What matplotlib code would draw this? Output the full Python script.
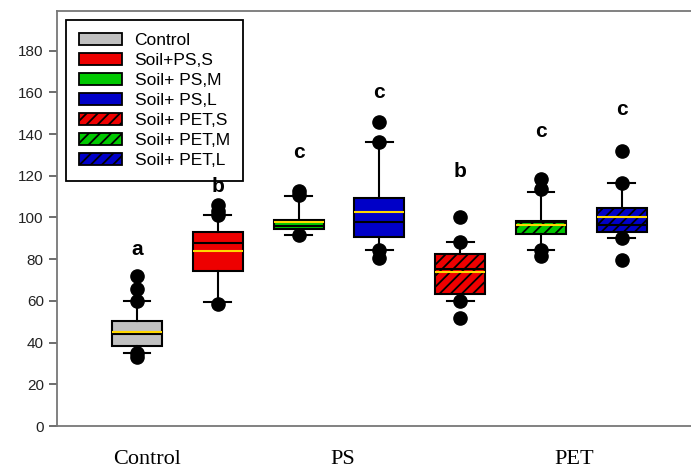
import matplotlib
matplotlib.use("Agg")
import matplotlib.pyplot as plt
from matplotlib.patches import Patch

# values
labels = ["Control", "Soil+PS,S", "Soil+ PS,M", "Soil+ PS,L",
          "Soil+ PET,S", "Soil+ PET,M", "Soil+ PET,L"]
q1 = [38.4, 74.1, 94.6, 90.6, 63.2, 92.0, 92.8]
q3 = [50.4, 93.1, 98.9, 109.3, 82.6, 98.4, 104.3]
med = [44.0, 87.8, 96.1, 97.8, 75.2, 97.6, 96.5]
mean = [45.3, 83.9, 97.6, 102.6, 73.9, 96.2, 100.1]
whislo = [35.2, 59.5, 91.7, 84.5, 60.0, 84.5, 90.3]
whishi = [60.0, 101.1, 110.1, 136.2, 88.0, 112.0, 116.5]
fliers = [
    [71.7, 65.6, 60.0, 34.9, 33.3],
    [106.1, 102.9, 101.1, 58.5],
    [112.8, 110.9, 91.7],
    [145.6, 136.2, 84.5, 80.5],
    [100.0, 88.0, 60.0, 52.0],
    [118.4, 113.6, 84.5, 81.3],
    [131.7, 116.5, 90.3, 79.7],
]
letters = ["a", "b", "c", "c", "b", "c", "c"]
letter_y = [84.5, 114.9, 131.2, 160.0, 122.0, 141.3, 152.0]
groups = ["Control", "PS", "PET"]

colors = ["#c0c0c0", "#ee0000", "#00c800", "#0000c8",
          "#ee0000", "#00c800", "#0000c8"]
hatches = [None, None, None, None, "///", "///", "///"]

plt.rcParams["hatch.linewidth"] = 1.3
plt.rcParams["font.family"] = ["Liberation Sans", "DejaVu Sans"]

fig = plt.figure(figsize=(6.91, 4.69), dpi=100)
ax = fig.add_axes([57 / 691, 43 / 469, 634 / 691, 415 / 469])

pos = list(range(1, 8))
stats = []
for i in range(7):
    stats.append(dict(label=labels[i], q1=q1[i], q3=q3[i], med=med[i],
                      mean=mean[i], whislo=whislo[i], whishi=whishi[i],
                      fliers=fliers[i]))

bp = ax.bxp(stats, positions=pos, widths=0.62, capwidths=0.33,
            patch_artist=True, showmeans=True, meanline=True,
            boxprops=dict(edgecolor="black", linewidth=1.5),
            medianprops=dict(color="black", linewidth=1.5),
            meanprops=dict(color="#ffd700", linestyle="-", linewidth=1.5),
            whiskerprops=dict(color="black", linewidth=1.5),
            capprops=dict(color="black", linewidth=1.5),
            flierprops=dict(marker="o", markerfacecolor="black",
                            markeredgecolor="black", markersize=9.5))
for box, c, h in zip(bp["boxes"], colors, hatches):
    box.set_facecolor(c)
    if h:
        box.set_hatch(h)

for x, t, y in zip(pos, letters, letter_y):
    ax.text(x, y, t, ha="center", va="center", fontsize=15,
            fontweight="bold", zorder=10)

ax.set_xlim(0.01, 7.856)
ax.set_ylim(0, 199)
ax.set_yticks(range(0, 181, 20))
ax.tick_params(axis="y", length=6, width=1.2, color="#555555",
               labelsize=11, labelcolor="#222222")

ax.set_xticks([1.12, 3.55, 6.41])
ax.set_xticklabels(groups, fontfamily="Liberation Serif", fontsize=16)
ax.tick_params(axis="x", length=0, pad=17)

for s in ["top", "bottom", "left"]:
    ax.spines[s].set_color("#777777")
    ax.spines[s].set_linewidth(1.3)
ax.spines["right"].set_visible(False)

handles = [Patch(facecolor=c, edgecolor="black", hatch=h, linewidth=1.3)
           for c, h in zip(colors, hatches)]
leg = ax.legend(handles, labels, loc="upper left",
                bbox_to_anchor=(9 / 634, 406 / 415), borderaxespad=0,
                fontsize=12.5, handlelength=2.5, handleheight=0.7,
                labelspacing=0.28, handletextpad=0.7, borderpad=0.75,
                fancybox=False, framealpha=1)
leg.get_frame().set_edgecolor("black")
leg.get_frame().set_linewidth(1.3)

fig.savefig("out.png", dpi=100)
